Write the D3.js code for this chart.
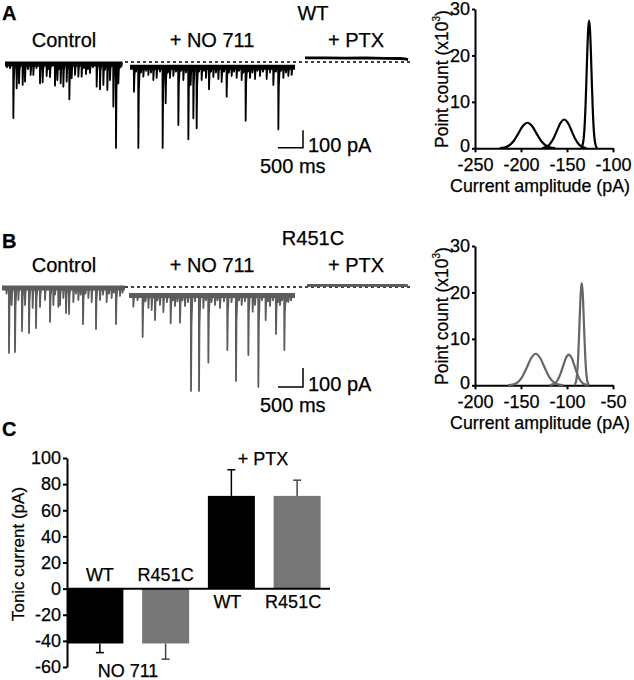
<!DOCTYPE html>
<html>
<head>
<meta charset="utf-8">
<script src="https://cdn.jsdelivr.net/npm/d3@7"></script>
<style>
  body { margin: 0; background: #fff; }
  svg { font-family: "Liberation Sans", Arial, sans-serif; }
  text { fill: #000; stroke: #000; stroke-width: 0.25px; }
</style>
</head>
<body>
<svg id="fig" width="634" height="680"></svg>
<script>
// ---- traces: segments [start ms, end ms, baseline pA], events [time ms, peak pA]
var wtSegments = [[0, 2350, -11], [2500, 5800, -30]];
var wtControlEvents = [[40,-30],[100,-35],[167,-320],[233,-150],[280,-122],[353,-131],[400,-112],[460,-40],[513,-74],[567,-74],[630,-35],
  [700,-122],[753,-116],[833,-80],[867,-40],[900,-86],[1000,-135],[1047,-103],[1080,-40],[1113,-122],[1167,-141],[1233,-112],[1287,-213],
  [1333,-93],[1400,-74],[1467,-84],[1533,-84],[1580,-35],[1620,-69],[1660,-40],[1700,-63],[1760,-30],[1833,-141],[1900,-156],[1967,-131],
  [2000,-45],[2047,-160],[2100,-103],[2167,-255],[2220,-491],[2267,-122],[2310,-30]];
var wtNo711Events = [[2580,-170],[2620,-55],[2667,-491],[2720,-60],[2767,-84],[2820,-50],[2867,-74],[2920,-60],[2967,-103],[3033,-91],
  [3100,-55],[3153,-491],[3213,-236],[3260,-60],[3300,-91],[3367,-80],[3420,-55],[3467,-360],[3520,-50],[3567,-103],[3620,-60],[3667,-442],
  [3713,-131],[3767,-322],[3833,-379],[3880,-55],[3933,-103],[3980,-50],[4020,-91],[4080,-156],[4120,-55],[4167,-86],[4220,-60],[4267,-97],
  [4333,-114],[4380,-55],[4433,-198],[4480,-60],[4533,-80],[4580,-55],[4633,-91],[4680,-50],[4733,-103],[4770,-60],[4813,-335],[4860,-55],
  [4900,-91],[4950,-60],[5000,-97],[5050,-50],[5100,-80],[5160,-55],[5233,-97],[5300,-60],[5367,-131],[5420,-55],[5467,-385],[5520,-50],
  [5567,-91],[5620,-60],[5667,-80],[5733,-74]];
var wtPtxPoints = [[6000,23],[6400,24],[6800,22],[7200,23],[7600,21],[7900,20],[8000,18],[8060,14]];

var mutSegments = [[-60, 2400, -5], [2480, 5800, -45]];
var mutControlEvents = [[30,-35],[80,-347],[133,-95],[200,-342],[267,-68],[340,-232],[400,-95],[480,-242],[553,-110],[620,-216],[700,-105],
  [800,-68],[900,-184],[967,-95],[1000,-40],[1067,-105],[1100,-95],[1167,-58],[1220,-137],[1280,-142],[1367,-79],[1420,-35],[1467,-68],
  [1515,-40],[1560,-195],[1610,-35],[1667,-58],[1733,-79],[1820,-221],[1900,-68],[1960,-40],[2033,-79],[2080,-35],[2133,-58],[2178,-30],
  [2220,-195],[2300,-47],[2350,-30]];
var mutNo711Events = [[2567,-104],[2650,-70],[2753,-263],[2810,-75],[2867,-110],[2933,-121],[3000,-174],[3050,-70],[3100,-95],[3167,-132],
  [3240,-80],[3313,-191],[3360,-70],[3400,-100],[3450,-75],[3500,-188],[3550,-70],[3600,-100],[3660,-80],[3720,-547],[3800,-75],[3880,-547],
  [3967,-110],[4020,-70],[4067,-398],[4130,-80],[4200,-95],[4250,-70],[4300,-110],[4380,-75],[4447,-332],[4530,-80],[4620,-495],[4680,-70],
  [4733,-95],[4800,-75],[4867,-358],[4953,-130],[5000,-95],[5067,-526],[5140,-70],[5213,-174],[5260,-75],[5300,-100],[5360,-70],[5420,-247],
  [5460,-80],[5500,-95],[5540,-70],[5587,-332],[5630,-75],[5667,-79],[5720,-70]];
var mutPtxPoints = [[6040,8],[6400,9],[6800,8],[7200,9],[7600,8],[8000,8],[8060,7]];

// ---- amplitude histograms (Gaussian fits) [pA, count x10^3]
var histTicksWT = [-250, -200, -150, -100];
var wtFit1 = [[-223,0.04],[-218,0.17],[-213,0.6],[-208,1.58],[-203,3.16],[-198,4.79],[-193,5.5],[-188,4.79],[-183,3.16],[-178,1.58],[-173,0.6],[-168,0.17],[-163,0.04]];
var wtFit2 = [[-177,0.07],[-173,0.27],[-169,0.84],[-165,2.01],[-161,3.76],[-157,5.47],[-153,6.2],[-149,5.47],[-145,3.76],[-141,2.01],[-137,0.84],[-133,0.27],[-129,0.07]];
var wtFit3 = [[-135,0.06],[-134,0.24],[-133,0.74],[-132,1.9],[-131,4.3],[-130,8.4],[-129,14.1],[-128,20.5],[-127,25.5],[-126,27.5],[-125,25.5],[-124,20.5],[-123,14.1],[-122,8.4],[-121,4.3],[-120,1.9],[-119,0.74],[-118,0.24],[-117,0.06]];
var histTicksMut = [-200, -150, -100, -50];
var mutFit1 = [[-164,0.03],[-159,0.14],[-154,0.58],[-149,1.7],[-144,3.67],[-139,5.83],[-134,6.8],[-129,5.83],[-124,3.67],[-119,1.7],[-114,0.58],[-109,0.14],[-104,0.03]];
var mutFit2 = [[-119,0.04],[-116,0.14],[-113,0.46],[-110,1.2],[-107,2.53],[-104,4.31],[-101,5.93],[-98,6.6],[-95,5.93],[-92,4.31],[-89,2.53],[-86,1.2],[-83,0.46],[-80,0.14],[-77,0.04]];
var mutFit3 = [[-92,0.09],[-91,0.31],[-90,0.97],[-89,2.5],[-88,5.5],[-87,10.1],[-86,15.6],[-85,20.2],[-84,22],[-83,20.2],[-82,15.6],[-81,10.1],[-80,5.5],[-79,2.5],[-78,0.97],[-77,0.31],[-76,0.09]];
var countTicks = [0, 10, 20, 30];

// ---- tonic current bars
var barNames = ["WT", "R451C", "WT ", "R451C "];
var barMeans = [-42, -42, 71, 71];
var barErrors = [7, 12, 20, 12];
var tonicTicks = [-60, -40, -20, 0, 20, 40, 60, 80, 100];

var BLACK = "#000", GREY = "#5c5c5c", BARGREY = "#767676";
var svg = d3.select("#fig");
svg.append("rect").attr("width", 634).attr("height", 680).attr("fill", "#fff");

function label(g, x, y, s, size, anchor, weight) {
  return g.append("text").attr("x", x).attr("y", y).attr("font-size", size)
    .attr("text-anchor", anchor || "start").attr("font-weight", weight || "normal").text(s);
}

// time axis shared by both trace panels (20 ms per px)
var tx = d3.scaleLinear().domain([0, 8100]).range([5, 410]);

function traceLine(seg, events) {
  var t0 = seg[0], t1 = seg[1], base = seg[2];
  var pts = [[t0, base]];
  events.slice().sort(function(a, b) { return a[0] - b[0]; }).forEach(function(e) {
    var t = e[0], p = e[1];
    pts.push([t - 4, base], [t, p], [t + 10, base + (p - base) * 0.3], [t + 28, base]);
  });
  pts.push([t1, base]);
  return pts;
}

function drawTraces(g, y, segs, evLists, ptx, color, title, top) {
  var line = d3.line().x(function(d) { return tx(d[0]); }).y(function(d) { return y(d[1]); });
  // dashed reference
  g.append("line").attr("x1", tx(2400)).attr("x2", tx(8100)).attr("y1", y(0)).attr("y2", y(0))
    .attr("stroke", BLACK).attr("stroke-width", 1.5).attr("stroke-dasharray", "3,3");
  segs.forEach(function(seg, i) {
    g.append("line").attr("x1", tx(seg[0])).attr("x2", tx(seg[1])).attr("y1", y(seg[2])).attr("y2", y(seg[2]))
      .attr("stroke", color).attr("stroke-width", 5);
    g.append("path").attr("d", line(traceLine(seg, evLists[i]))).attr("fill", "none")
      .attr("stroke", color).attr("stroke-width", 1.8).attr("stroke-linejoin", "round");
  });
  g.append("path").attr("d", line(ptx)).attr("fill", "none").attr("stroke", color).attr("stroke-width", 2.8);
  // scale bar 500 ms / 100 pA
  g.append("path").attr("d", line([[5460, top - 100], [5960, top - 100], [5960, top]]))
    .attr("fill", "none").attr("stroke", BLACK).attr("stroke-width", 1.5);
  label(g, 308, y(top - 100) + 4, "100 pA", 20);
  label(g, 260, y(top - 100) + 25, "500 ms", 20);
  label(g, 64, y(0) - 15, "Control", 20, "middle");
  label(g, 212, y(0) - 15, "+ NO 711", 20, "middle");
  label(g, 356, y(0) - 15, "+ PTX", 20, "middle");
  label(g, 313, y(0) - 42, title, 20, "middle");
}

var yTA = d3.scaleLinear().domain([0, -100]).range([62, 79.5]);
var yTB = d3.scaleLinear().domain([0, -100]).range([287, 306]);
var gA = svg.append("g"), gB = svg.append("g");
drawTraces(gA, yTA, wtSegments, [wtControlEvents, wtNo711Events], wtPtxPoints, BLACK, "WT", -390);
drawTraces(gB, yTB, mutSegments, [mutControlEvents, mutNo711Events], mutPtxPoints, GREY, "R451C", -426);

// ---- histograms
function drawHist(top, ticks, fits, color) {
  var x = d3.scaleLinear().domain([ticks[0], ticks[3]]).range([475, 613]);
  var y = d3.scaleLinear().domain([0, 30]).range([top + 139.3, top]);
  var g = svg.append("g");
  var xa = g.append("g").attr("transform", "translate(0," + y(0) + ")")
    .call(d3.axisBottom(x).tickValues(ticks).tickFormat(String).tickSize(4).tickSizeOuter(0).tickPadding(6));
  var ya = g.append("g").attr("transform", "translate(475,0)")
    .call(d3.axisLeft(y).tickValues(countTicks).tickSize(3).tickSizeOuter(0).tickPadding(2));
  [xa, ya].forEach(function(a) {
    a.selectAll("path, line").attr("stroke", BLACK).attr("stroke-width", 2);
    a.selectAll("text").attr("font-size", 18).attr("font-family", null).attr("fill", BLACK);
  });
  // lift the "0" count label a little so it clears the first amplitude label
  ya.selectAll(".tick text").filter(function(d) { return d === 0; }).attr("dy", "0.2em");
  var line = d3.line().x(function(d) { return x(d[0]); }).y(function(d) { return y(d[1]); }).curve(d3.curveMonotoneX);
  fits.forEach(function(f) {
    g.append("path").attr("d", line(f)).attr("fill", "none").attr("stroke", color).attr("stroke-width", 2.2);
  });
  var yl = g.append("text").attr("transform", "translate(448," + (top + 70) + ") rotate(-90)")
    .attr("text-anchor", "middle").attr("font-size", 17.5);
  yl.append("tspan").text("Point count (x10");
  yl.append("tspan").attr("font-size", 10).attr("dy", -8).text("3");
  yl.append("tspan").attr("dy", 8).text(")");
  label(g, 540, top + 183, "Current amplitude (pA)", 17.8, "middle");
}
drawHist(9, histTicksWT, [wtFit1, wtFit2, wtFit3], BLACK);
drawHist(246, histTicksMut, [mutFit1, mutFit2, mutFit3], "#666");

// ---- panel C bars
var yC = d3.scaleLinear().domain([-60, 100]).range([667, 458]);
var xC = d3.scaleBand().domain(barNames).range([67, 330]).paddingInner(0.285).paddingOuter(0.1425);
var gC = svg.append("g");
var yAxC = gC.append("g").attr("transform", "translate(67,0)")
  .call(d3.axisLeft(yC).tickValues(tonicTicks).tickFormat(String).tickSize(4).tickSizeOuter(0).tickPadding(2));
yAxC.selectAll("path, line").attr("stroke", BLACK).attr("stroke-width", 2);
yAxC.selectAll("text").attr("font-size", 18).attr("font-family", null).attr("fill", BLACK);

barNames.forEach(function(n, i) {
  var v = barMeans[i], col = i % 2 ? BARGREY : BLACK;
  var x0 = xC(n), w = xC.bandwidth(), cx = x0 + w / 2;
  var e = v + (v < 0 ? -barErrors[i] : barErrors[i]);
  gC.append("line").attr("x1", cx).attr("x2", cx).attr("y1", yC(v)).attr("y2", yC(e))
    .attr("stroke", i % 2 ? "#444" : BLACK).attr("stroke-width", 1.5);
  gC.append("line").attr("x1", cx - 4).attr("x2", cx + 4).attr("y1", yC(e)).attr("y2", yC(e))
    .attr("stroke", i % 2 ? "#444" : BLACK).attr("stroke-width", 1.5);
  // first bar is drawn out to the y axis, as in the figure
  var left = i === 0 ? xC.range()[0] : x0;
  gC.append("rect").attr("x", left).attr("width", x0 + w - left)
    .attr("y", yC(Math.max(0, v))).attr("height", Math.abs(yC(v) - yC(0))).attr("fill", col);
  var below = v > 0;
  label(gC, cx - (below ? 4 : 0), below ? yC(0) + 19 : yC(0) - 8, n.trim(), 18, "middle");
});
gC.append("line").attr("x1", 67).attr("x2", 330).attr("y1", yC(0)).attr("y2", yC(0))
  .attr("stroke", BLACK).attr("stroke-width", 2);
label(gC, 263, 465, "+ PTX", 18, "middle");
label(gC, 128, 677, "NO 711", 18, "middle");
gC.append("text").attr("transform", "translate(24,554) rotate(-90)").attr("text-anchor", "middle")
  .attr("font-size", 17).text("Tonic current (pA)");

// panel letters
label(svg, 2, 20, "A", 20, "start", "bold");
label(svg, 2, 248, "B", 20, "start", "bold");
label(svg, 2, 436, "C", 20, "start", "bold");
</script>
</body>
</html>
